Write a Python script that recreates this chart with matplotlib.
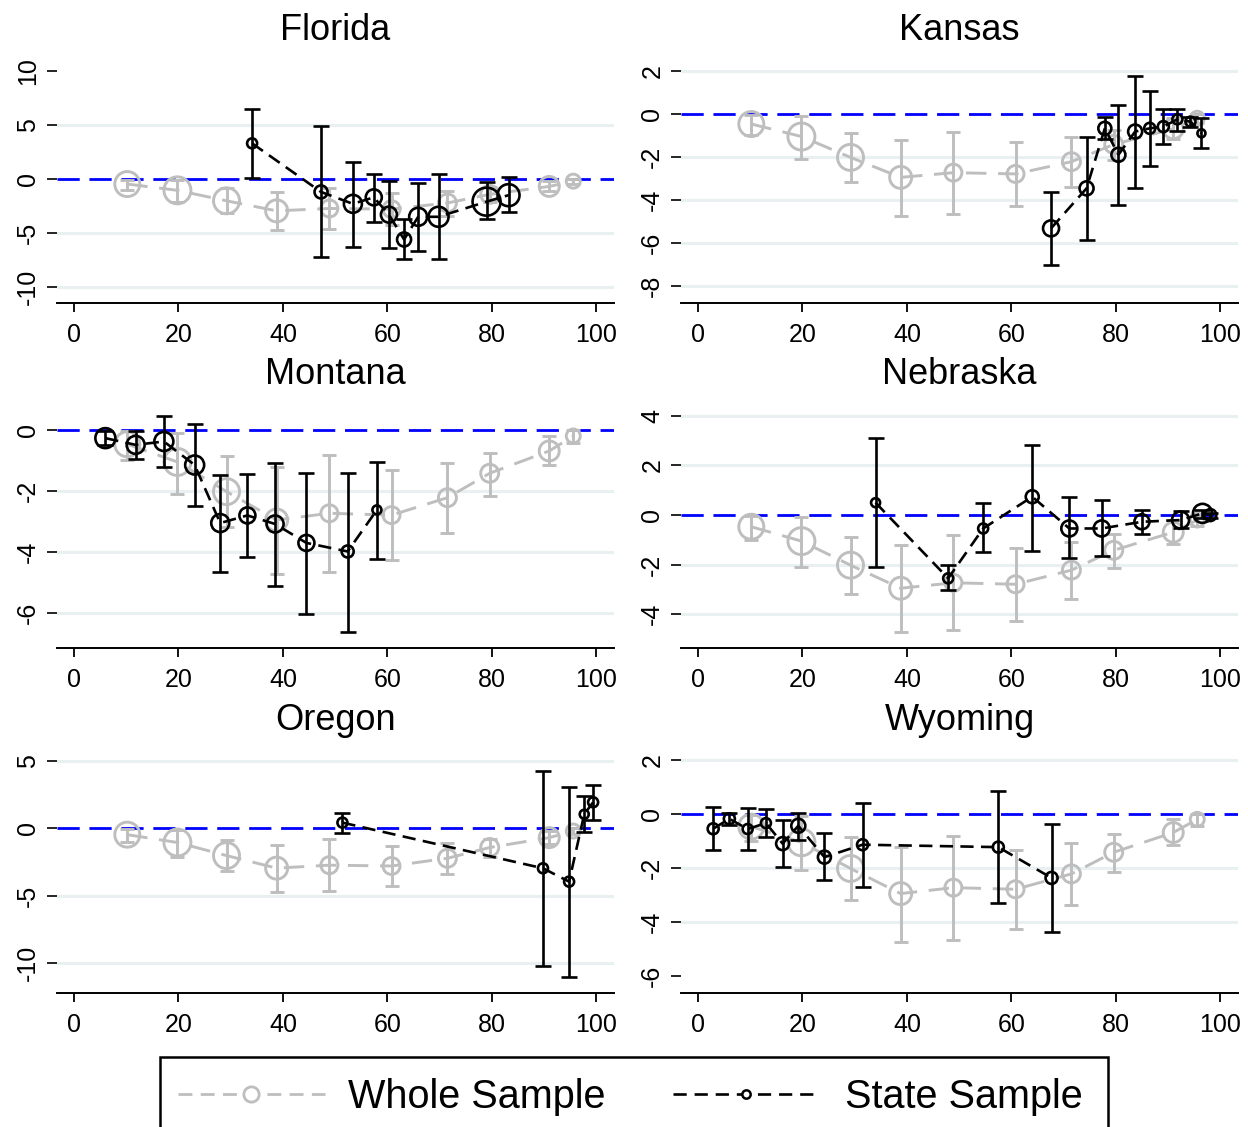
#### Six-state event-study panels ####
### Whole sample vs state sample, hollow circles sized by weight ###

import numpy as np
import matplotlib.pyplot as plt
from matplotlib.lines import Line2D
from matplotlib.patches import Rectangle

plt.rcParams['font.family'] = ['Liberation Sans', 'DejaVu Sans']
plt.rcParams['axes.unicode_minus'] = False

## Data

# whole sample, identical in every panel
whole_x    = [10.2, 19.8, 29.2, 38.8, 48.9, 60.8, 71.5, 79.6, 91.0, 95.6]
whole_y    = [-0.47, -1.05, -2.02, -2.95, -2.73, -2.79, -2.22, -1.42, -0.69, -0.20]
whole_lo   = [-1.00, -2.09, -3.18, -4.73, -4.65, -4.26, -3.38, -2.15, -1.15, -0.44]
whole_hi   = [-0.05, -0.09, -0.87, -1.21, -0.82, -1.32, -1.09, -0.76, -0.20, 0.00]
whole_size = [25, 27, 26, 22, 17, 17, 18, 18, 20, 14]

fl_x    = [34.1, 47.3, 53.4, 57.4, 60.3, 63.2, 65.9, 69.8, 79.0, 83.2]
fl_y    = [3.3, -1.2, -2.3, -1.7, -3.3, -5.6, -3.5, -3.5, -2.1, -1.5]
fl_lo   = [0.05, -7.2, -6.3, -4.0, -6.4, -7.4, -6.7, -7.45, -3.7, -3.1]
fl_hi   = [6.5, 4.9, 1.6, 0.43, -0.2, -3.7, -0.35, 0.45, -0.25, 0.2]
fl_size = [10, 13, 18, 16, 16, 14, 18, 20, 28, 22]

ks_x    = [67.6, 74.4, 77.9, 80.5, 83.7, 86.5, 89.1, 91.8, 94.3, 96.4]
ks_y    = [-5.32, -3.46, -0.67, -1.90, -0.82, -0.67, -0.59, -0.25, -0.36, -0.90]
ks_lo   = [-7.02, -5.86, -1.18, -4.23, -3.43, -2.40, -1.41, -0.79, -0.59, -1.60]
ks_hi   = [-3.64, -1.05, -0.16, 0.42, 1.78, 1.07, 0.22, 0.22, -0.16, -0.20]
ks_size = [16, 14, 13, 14, 14, 11, 11, 10, 10, 8]

mt_x    = [6.0, 11.8, 17.2, 23.1, 28.0, 33.2, 38.5, 44.5, 52.4, 58.0]
mt_y    = [-0.27, -0.49, -0.38, -1.15, -3.05, -2.80, -3.08, -3.70, -3.98, -2.62]
mt_lo   = [-0.50, -0.95, -1.20, -2.49, -4.66, -4.17, -5.10, -6.02, -6.60, -4.22]
mt_hi   = [-0.05, -0.03, 0.47, 0.20, -1.49, -1.44, -1.09, -1.42, -1.40, -1.04]
mt_size = [20, 18, 19, 19, 18, 16, 17, 16, 12, 9]

ne_x    = [34.0, 47.9, 54.6, 64.0, 71.1, 77.3, 85.0, 92.4, 96.6, 98.1]
ne_y    = [0.50, -2.55, -0.54, 0.74, -0.54, -0.54, -0.27, -0.20, 0.07, 0.00]
ne_lo   = [-2.08, -3.02, -1.50, -1.45, -1.74, -1.64, -0.78, -0.54, -0.10, -0.10]
ne_hi   = [3.09, -2.01, 0.50, 2.82, 0.71, 0.60, 0.20, 0.16, 0.20, 0.10]
ne_size = [9, 10, 10, 13, 16, 16, 15, 17, 19, 12]

or_x    = [51.4, 89.8, 94.8, 97.7, 99.4]
or_y    = [0.42, -2.96, -3.95, 1.04, 1.93]
or_lo   = [-0.37, -10.17, -10.99, -0.25, 0.62]
or_hi   = [1.11, 4.25, 3.09, 2.42, 3.21]
or_size = [10, 10, 10, 9, 10]

wy_x    = [2.9, 6.0, 9.5, 13.0, 16.2, 19.2, 24.2, 31.5, 57.5, 67.7]
wy_y    = [-0.55, -0.18, -0.56, -0.34, -1.10, -0.44, -1.60, -1.14, -1.23, -2.37]
wy_lo   = [-1.33, -0.40, -1.33, -0.87, -1.98, -0.98, -2.45, -2.70, -3.29, -4.37]
wy_hi   = [0.25, 0.05, 0.23, 0.18, -0.22, 0.05, -0.69, 0.42, 0.86, -0.38]
wy_size = [11, 11, 10, 10, 13, 14, 13, 11, 11, 12]

# name, (x, y, lo, hi, size), yticks, grid lines, ylim
panels = [
    ('Florida',  (fl_x, fl_y, fl_lo, fl_hi, fl_size), [-10, -5, 0, 5, 10], [-10, -5, 5], (-11.48, 11.2)),
    ('Kansas',   (ks_x, ks_y, ks_lo, ks_hi, ks_size), [-8, -6, -4, -2, 0, 2], [-8, -6, -4, -2, 2], (-8.79, 2.6)),
    ('Montana',  (mt_x, mt_y, mt_lo, mt_hi, mt_size), [-6, -4, -2, 0], [-6, -4, -2], (-7.14, 0.88)),
    ('Nebraska', (ne_x, ne_y, ne_lo, ne_hi, ne_size), [-4, -2, 0, 2, 4], [-4, -2, 2, 4], (-5.36, 4.52)),
    ('Oregon',   (or_x, or_y, or_lo, or_hi, or_size), [-10, -5, 0, 5], [-10, -5, 5], (-12.2, 5.95)),
    ('Wyoming',  (wy_x, wy_y, wy_lo, wy_hi, wy_size), [-6, -4, -2, 0, 2], [-4, -2, 2], (-6.63, 2.44)),
]

GRAY = '#BEBEBE'
GRID = '#E8F0F1'

## Plot Statement

W, H = 1248, 1127
fig = plt.figure(figsize=(W / 100, H / 100), dpi=100)

col_px = [(57, 614), (681, 1238)]
row_px = [(58, 303), (403, 648), (748, 993)]
title_y = [30, 375, 720]


def draw_series(ax, x, y, lo, hi, size, color, lw, dash, cap, z):
    x = np.asarray(x); y = np.asarray(y)
    yerr = [y - np.asarray(lo), np.asarray(hi) - y]
    ax.errorbar(x, y, yerr=yerr, fmt='none', ecolor=color, elinewidth=lw,
                capsize=cap, capthick=lw, zorder=z)
    ax.plot(x, y, color=color, lw=lw, linestyle=(0, dash), zorder=z)
    ax.scatter(x, y, s=(np.asarray(size) * 0.72) ** 2, facecolors='none',
               edgecolors=color, linewidths=lw, zorder=z + 0.5)


for i, (name, state, yticks, grid, ylim) in enumerate(panels):
    r, c = divmod(i, 2)
    (l, rr), (t, b) = col_px[c], row_px[r]
    ax = fig.add_axes([l / W, 1 - b / H, (rr - l) / W, (b - t) / H])

    for g in grid:
        ax.axhline(g, color=GRID, lw=2.2, zorder=0.5)
    ax.axhline(0, color='#0000FF', lw=2.0, linestyle=(0, (8, 3.5)), zorder=1)

    draw_series(ax, whole_x, whole_y, whole_lo, whole_hi, whole_size,
                GRAY, 2.1, (7, 4), 5, 2)
    draw_series(ax, *state, 'black', 1.9, (5, 2.8), 5.8, 4)

    ax.set_xlim(-3.26, 103.4)
    ax.set_ylim(*ylim)
    ax.set_xticks([0, 20, 40, 60, 80, 100])
    ax.set_yticks(yticks)
    for s in ['top', 'right', 'left']:
        ax.spines[s].set_visible(False)
    ax.spines['bottom'].set_linewidth(1.4)
    ax.tick_params(axis='x', length=6.5, width=1.3, pad=8, labelsize=18)
    ax.tick_params(axis='y', length=7, width=1.2, pad=5, labelsize=18)
    for lab in ax.get_yticklabels():
        lab.set_rotation(90)
        lab.set_va('center')
    ax.set_facecolor('none')

    fig.text((l + rr) / 2 / W, 1 - title_y[r] / H, name, ha='center',
             va='center', fontsize=26)

## Legend (box runs off the bottom edge)

fig.patches.append(Rectangle((160 / W, -0.05), (1108 - 160) / W, 0.05 + 1 - 1057 / H,
                             transform=fig.transFigure, fill=False,
                             edgecolor='black', lw=1.8))
ly = 1 - 1094 / H
fig.lines.append(Line2D([178 / W, 325 / W], [ly, ly], transform=fig.transFigure,
                        color=GRAY, lw=2.0, linestyle=(0, (5, 3))))
fig.lines.append(Line2D([251 / W], [ly], transform=fig.transFigure, marker='o',
                        ms=11, mfc='white', mec=GRAY, mew=2.0))
fig.lines.append(Line2D([673 / W, 820 / W], [ly, ly], transform=fig.transFigure,
                        color='black', lw=1.9, linestyle=(0, (5, 3))))
fig.lines.append(Line2D([746 / W], [ly], transform=fig.transFigure, marker='o',
                        ms=6, mfc='white', mec='black', mew=1.8))
fig.text(348 / W, 1 - 1097 / H, 'Whole Sample', ha='left', va='center', fontsize=28.5)
fig.text(845 / W, 1 - 1097 / H, 'State Sample', ha='left', va='center', fontsize=28.5)

## Output

fig.savefig('out.png', dpi=100)
